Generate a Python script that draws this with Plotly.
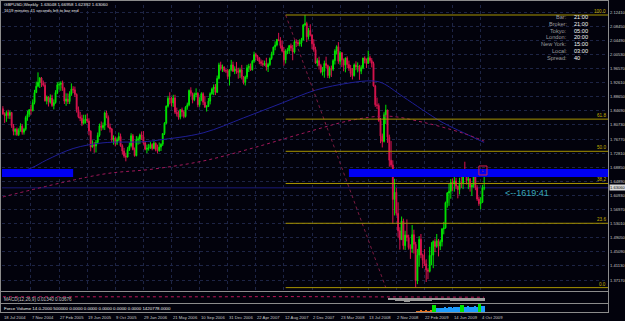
import plotly.graph_objects as go

W, H = 625, 321

# ---------------- data (weekly GBPUSD, 18 Jul 2004 ... 18 Oct 2009) ----------------
weeks = list(range(275))
opens = [
 1.8530,1.8380,1.8330,1.8420,1.8340,1.8420,1.8050,1.7890,1.7950,1.7800,
 1.7920,1.8040,1.7870,1.7950,1.8280,1.8370,1.8500,1.8480,1.8700,1.8980,
 1.9160,1.9270,1.9390,1.9250,1.9190,1.8750,1.8860,1.8710,1.8830,1.8620,
 1.8700,1.8980,1.9200,1.9210,1.9250,1.9100,1.8740,1.8800,1.8730,1.8940,
 1.9080,1.9060,1.8930,1.8500,1.8300,1.8260,1.8120,1.8210,1.8240,1.8180,
 1.7900,1.7450,1.7520,1.7480,1.7580,1.7780,1.8050,1.8000,1.8060,1.8410,
 1.8280,1.8010,1.7960,1.7660,1.7700,1.7560,1.7650,1.7750,1.7490,1.7340,
 1.7200,1.7170,1.7380,1.7490,1.7770,1.7380,1.7210,1.7650,1.7680,1.7790,
 1.7740,1.7570,1.7390,1.7420,1.7430,1.7520,1.7410,1.7560,1.7380,1.7350,
 1.7450,1.7530,1.7830,1.8120,1.8600,1.8820,1.8800,1.8690,1.8830,1.8430,
 1.8380,1.8290,1.8500,1.8440,1.8310,1.8570,1.8640,1.9040,1.8960,1.8780,
 1.8920,1.8960,1.8640,1.8780,1.8950,1.8710,1.8570,1.8590,1.8740,1.8950,
 1.9080,1.9140,1.8990,1.9380,1.9760,1.9650,1.9700,1.9600,1.9590,1.9430,
 1.9620,1.9760,1.9580,1.9650,1.9590,1.9550,1.9620,1.9430,1.9270,1.9420,
 1.9680,1.9720,1.9620,1.9860,2.0050,2.0000,1.9960,1.9850,1.9800,1.9770,
 1.9800,1.9700,1.9770,1.9940,2.0070,2.0260,2.0320,2.0470,2.0440,2.0300,
 2.0150,1.9900,2.0150,2.0160,2.0300,2.0230,2.0120,2.0410,2.0390,2.0350,
 2.0380,2.0460,2.0880,2.0920,2.0550,2.0730,2.0600,2.0350,2.0190,1.9810,
 1.9880,1.9740,1.9560,1.9580,1.9800,1.9740,1.9460,1.9660,1.9640,1.9880,
 2.0150,2.0270,1.9860,2.0100,1.9900,1.9750,1.9950,1.9770,1.9660,1.9520,
 1.9460,1.9760,1.9700,1.9720,1.9580,1.9680,1.9950,1.9880,1.9800,1.9960,
 1.9880,1.9800,1.9170,1.8640,1.8620,1.8200,1.7760,1.7610,1.8360,1.8490,
 1.7730,1.7080,1.6950,1.5980,1.6180,1.5590,1.5100,1.4850,1.5370,1.4680,
 1.4980,1.4910,1.4630,1.4600,1.4990,1.4720,1.3700,1.4420,1.4860,1.4420,
 1.4270,1.4170,1.4000,1.3960,1.4410,1.4420,1.4800,1.4660,1.4820,1.4670,
 1.4790,1.5150,1.5180,1.5890,1.6160,1.6210,1.6460,1.6420,1.6500,1.6350,
 1.6260,1.6450,1.6440,1.6700,1.6680,1.6510,1.6560,1.6330,1.6380,1.6620,
 1.6310,1.5990,1.5860,1.5900,1.6305]
highs = [
 1.8600,1.8430,1.8480,1.8500,1.8470,1.8440,1.8100,1.7980,1.8000,1.7980,
 1.8120,1.8090,1.7990,1.8330,1.8470,1.8520,1.8640,1.8790,1.9060,1.9290,
 1.9550,1.9420,1.9420,1.9320,1.9270,1.8900,1.8880,1.8930,1.8920,1.8790,
 1.9050,1.9270,1.9290,1.9300,1.9320,1.9130,1.8960,1.8960,1.9020,1.9240,
 1.9160,1.9150,1.8960,1.8590,1.8440,1.8360,1.8360,1.8360,1.8390,1.8260,
 1.7920,1.7640,1.7590,1.7650,1.7860,1.8110,1.8170,1.8140,1.8450,1.8470,
 1.8340,1.8110,1.7990,1.7780,1.7750,1.7720,1.7860,1.7830,1.7530,1.7430,
 1.7290,1.7450,1.7580,1.7840,1.7820,1.7440,1.7760,1.7750,1.7830,1.7890,
 1.7900,1.7620,1.7520,1.7540,1.7590,1.7560,1.7620,1.7580,1.7520,1.7580,
 1.7560,1.7840,1.8150,1.8620,1.8890,1.8990,1.8860,1.8920,1.8920,1.8560,
 1.8470,1.8520,1.8560,1.8480,1.8600,1.8700,1.9070,1.9130,1.8980,1.8980,
 1.9100,1.8990,1.8850,1.8990,1.8990,1.8890,1.8630,1.8830,1.8990,1.9120,
 1.9210,1.9220,1.9460,1.9820,1.9850,1.9770,1.9720,1.9640,1.9650,1.9640,
 1.9900,1.9850,1.9720,1.9840,1.9680,1.9680,1.9760,1.9440,1.9460,1.9760,
 1.9790,1.9800,1.9900,2.0130,2.0100,2.0040,1.9970,1.9910,1.9890,1.9880,
 1.9960,1.9820,1.9970,2.0130,2.0270,2.0420,2.0490,2.0660,2.0540,2.0450,
 2.0260,2.0200,2.0240,2.0320,2.0360,2.0320,2.0460,2.0480,2.0450,2.0480,
 2.0520,2.0910,2.1161,2.0970,2.0800,2.0900,2.0620,2.0480,2.0270,1.9950,
 1.9990,1.9790,1.9700,1.9880,1.9990,1.9770,1.9720,1.9740,1.9920,2.0200,
 2.0310,2.0400,2.0150,2.0120,1.9940,1.9970,2.0000,1.9880,1.9760,1.9670,
 1.9800,1.9860,1.9830,1.9760,1.9750,1.9960,2.0000,1.9940,2.0160,2.0020,
 1.9950,1.9850,1.9200,1.8840,1.8680,1.8270,1.7830,1.8430,1.8640,1.8500,
 1.7800,1.7620,1.7080,1.6560,1.6310,1.5900,1.5200,1.5500,1.5440,1.5100,
 1.5420,1.4990,1.4720,1.5260,1.5130,1.4790,1.4590,1.4950,1.5010,1.4460,
 1.4590,1.4300,1.4050,1.4650,1.4780,1.4830,1.4880,1.5010,1.4870,1.4850,
 1.5180,1.5350,1.5920,1.6190,1.6430,1.6550,1.6570,1.6650,1.6590,1.6370,
 1.6590,1.6620,1.6720,1.7040,1.6730,1.6700,1.6580,1.6430,1.6740,1.6670,
 1.6380,1.6060,1.6040,1.6390,1.6696]
lows = [
 1.8360,1.8130,1.8160,1.8250,1.8240,1.7990,1.7780,1.7780,1.7760,1.7760,
 1.7880,1.7800,1.7800,1.7910,1.8190,1.8300,1.8360,1.8450,1.8650,1.8980,
 1.9130,1.9110,1.9140,1.9150,1.8730,1.8650,1.8590,1.8670,1.8580,1.8510,
 1.8670,1.8940,1.9070,1.9030,1.9030,1.8660,1.8610,1.8660,1.8660,1.8890,
 1.8970,1.8860,1.8420,1.8260,1.8180,1.8040,1.8080,1.8110,1.8130,1.7780,
 1.7330,1.7440,1.7290,1.7300,1.7530,1.7740,1.7910,1.7940,1.7930,1.8260,
 1.7980,1.7860,1.7590,1.7520,1.7470,1.7510,1.7610,1.7460,1.7240,1.7150,
 1.7050,1.7160,1.7340,1.7440,1.7360,1.7180,1.7190,1.7520,1.7540,1.7650,
 1.7520,1.7360,1.7280,1.7350,1.7400,1.7360,1.7390,1.7330,1.7270,1.7320,
 1.7340,1.7480,1.7790,1.8100,1.8560,1.8650,1.8590,1.8580,1.8380,1.8310,
 1.8220,1.8230,1.8310,1.8260,1.8280,1.8500,1.8600,1.8890,1.8680,1.8740,
 1.8850,1.8570,1.8580,1.8740,1.8630,1.8560,1.8450,1.8580,1.8650,1.8920,
 1.8910,1.8910,1.8970,1.9350,1.9600,1.9560,1.9560,1.9530,1.9360,1.9180,
 1.9580,1.9560,1.9500,1.9510,1.9370,1.9390,1.9350,1.9210,1.9180,1.9360,
 1.9560,1.9590,1.9600,1.9810,1.9890,1.9870,1.9780,1.9730,1.9710,1.9730,
 1.9600,1.9560,1.9730,1.9900,2.0030,2.0170,2.0280,2.0430,2.0220,2.0110,
 1.9740,1.9800,2.0060,2.0070,2.0150,1.9890,2.0080,2.0260,2.0290,2.0280,
 2.0270,2.0450,2.0850,2.0400,2.0470,2.0560,2.0200,2.0130,1.9790,1.9720,
 1.9630,1.9520,1.9460,1.9400,1.9670,1.9390,1.9380,1.9420,1.9590,1.9770,
 2.0050,1.9790,1.9760,1.9700,1.9580,1.9550,1.9670,1.9590,1.9420,1.9350,
 1.9430,1.9610,1.9550,1.9340,1.9500,1.9640,1.9800,1.9670,1.9790,1.9820,
 1.9690,1.9150,1.8580,1.8520,1.8160,1.7560,1.7440,1.7580,1.8100,1.7570,
 1.6900,1.6880,1.5300,1.5530,1.5530,1.4910,1.4570,1.4840,1.4570,1.4560,
 1.4800,1.4570,1.4310,1.4480,1.4460,1.3503,1.3600,1.4090,1.4330,1.4050,
 1.4110,1.3660,1.3740,1.3930,1.4130,1.4050,1.4500,1.4620,1.4380,1.4560,
 1.4660,1.5000,1.5160,1.5750,1.5800,1.6000,1.6220,1.6200,1.6270,1.6010,
 1.6120,1.6300,1.6270,1.6610,1.6400,1.6270,1.6200,1.6080,1.6310,1.6240,
 1.5940,1.5800,1.5700,1.5880,1.6239]
closes = [
 1.8380,1.8330,1.8420,1.8340,1.8420,1.8050,1.7890,1.7950,1.7800,1.7920,
 1.8040,1.7870,1.7950,1.8280,1.8370,1.8500,1.8480,1.8700,1.8980,1.9160,
 1.9270,1.9390,1.9250,1.9190,1.8750,1.8860,1.8710,1.8830,1.8620,1.8700,
 1.8980,1.9200,1.9210,1.9250,1.9100,1.8740,1.8800,1.8730,1.8940,1.9080,
 1.9060,1.8930,1.8500,1.8300,1.8260,1.8120,1.8210,1.8240,1.8180,1.7900,
 1.7450,1.7520,1.7480,1.7580,1.7780,1.8050,1.8000,1.8060,1.8410,1.8280,
 1.8010,1.7960,1.7660,1.7700,1.7560,1.7650,1.7750,1.7490,1.7340,1.7200,
 1.7170,1.7380,1.7490,1.7770,1.7380,1.7210,1.7650,1.7680,1.7790,1.7740,
 1.7570,1.7390,1.7420,1.7430,1.7520,1.7410,1.7560,1.7380,1.7350,1.7450,
 1.7530,1.7830,1.8120,1.8600,1.8820,1.8800,1.8690,1.8830,1.8430,1.8380,
 1.8290,1.8500,1.8440,1.8310,1.8570,1.8640,1.9040,1.8960,1.8780,1.8920,
 1.8960,1.8640,1.8780,1.8950,1.8710,1.8570,1.8590,1.8740,1.8950,1.9080,
 1.9140,1.8990,1.9380,1.9760,1.9650,1.9700,1.9600,1.9590,1.9430,1.9620,
 1.9760,1.9580,1.9650,1.9590,1.9550,1.9620,1.9430,1.9270,1.9420,1.9680,
 1.9720,1.9620,1.9860,2.0050,2.0000,1.9960,1.9850,1.9800,1.9770,1.9800,
 1.9700,1.9770,1.9940,2.0070,2.0260,2.0320,2.0470,2.0440,2.0300,2.0150,
 1.9900,2.0150,2.0160,2.0300,2.0230,2.0120,2.0410,2.0390,2.0350,2.0380,
 2.0460,2.0880,2.0920,2.0550,2.0730,2.0600,2.0350,2.0190,1.9810,1.9880,
 1.9740,1.9560,1.9580,1.9800,1.9740,1.9460,1.9660,1.9640,1.9880,2.0150,
 2.0270,1.9860,2.0100,1.9900,1.9750,1.9950,1.9770,1.9660,1.9520,1.9460,
 1.9760,1.9700,1.9720,1.9580,1.9680,1.9950,1.9880,1.9800,1.9960,1.9880,
 1.9800,1.9170,1.8640,1.8620,1.8200,1.7760,1.7610,1.8360,1.8490,1.7730,
 1.7080,1.6950,1.5980,1.6180,1.5590,1.5100,1.4850,1.5370,1.4680,1.4980,
 1.4910,1.4630,1.4600,1.4990,1.4720,1.3700,1.4420,1.4860,1.4420,1.4270,
 1.4170,1.4000,1.3960,1.4410,1.4420,1.4800,1.4660,1.4820,1.4670,1.4790,
 1.5150,1.5180,1.5890,1.6160,1.6210,1.6460,1.6420,1.6500,1.6350,1.6260,
 1.6450,1.6440,1.6700,1.6680,1.6510,1.6560,1.6330,1.6380,1.6620,1.6310,
 1.5990,1.5860,1.5900,1.6300,1.6306]

# moving averages (week index, price)
ma_blue_weeks = [0, 16, 25, 40, 57, 80, 89, 114, 137, 159, 178, 197, 210, 216, 228, 250, 262, 274]
ma_blue_vals = [1.663, 1.686, 1.709, 1.741, 1.757, 1.760, 1.765, 1.785, 1.827, 1.869, 1.905, 1.925, 1.931, 1.925, 1.886, 1.815, 1.786, 1.758]
ma_red_weeks = [0, 57, 85, 114, 142, 171, 199, 219, 239, 262, 274]
ma_red_vals = [1.605, 1.669, 1.683, 1.706, 1.742, 1.784, 1.821, 1.832, 1.815, 1.784, 1.762]

# fibonacci retracement
fib_high, fib_low = 2.1161, 1.3503
fib_start_week, fib_end_week = 161, 218
fib_levels = [0.0, 23.6, 38.2, 50.0, 61.8, 100.0]
fib_texts = ["0.0", "23.6", "38.2", "50.0", "61.8", "100.0"]

# blue zone
zone_low, zone_high = 1.6610, 1.6836
zone_left_end_week = 40
zone_right_start_week = 197

# alert marker
alert_week_from, alert_week_to = 271.0, 275.6
alert_low, alert_high = 1.6667, 1.6920

# axis labels
time_label_weeks = [0, 16, 32, 48, 64, 80, 96, 112, 128, 144, 160, 176, 192, 208, 224, 240, 256, 272]
time_labels = ["18 Jul 2004", "7 Nov 2004", "27 Feb 2005", "19 Jun 2005", "9 Oct 2005", "29 Jan 2006",
               "21 May 2006", "10 Sep 2006", "31 Dec 2006", "22 Apr 2007", "12 Aug 2007", "2 Dec 2007",
               "23 Mar 2008", "13 Jul 2008", "2 Nov 2008", "22 Feb 2009", "14 Jun 2009", "4 Oct 2009"]
price_labels = ["2.12410", "2.08450", "2.04490", "2.00530", "1.96570", "1.92610", "1.88650", "1.84690",
                "1.80730", "1.76770", "1.72810", "1.68850", "1.64890", "1.60930", "1.56970", "1.53010",
                "1.49050", "1.45090", "1.41130", "1.37170", "1.33210"]

# indicators
vol_weeks = list(range(236, 275))
vol_vals = [1, 1, 1.5, 1, 1, 1.5, 1, 1, 1.5, 8.5, 8.5, 5, 4.5, 5, 5.5, 5, 6, 5.5, 6, 6, 5.5, 6, 6.5, 6, 6,
            9, 9, 6, 6.5, 7, 6.5, 6, 6.5, 7, 6.5, 9.5, 9.5, 7, 7]
macd_weeks = list(range(220, 275))
macd_vals = [-0.3, -0.4, -0.5, -0.6, -0.7, -0.75, -0.8, -0.85, -0.85, -0.9,
             -0.9, -0.9, -0.85, -0.85, -0.8, -0.8, -0.85, -0.8, -0.8, -0.75,
             -0.75, -0.7, -0.7, -0.65, -0.65, -0.6, -0.6, -0.55, -0.55, -0.5,
             -0.5, -0.5, -0.55, -0.6, -0.6, -0.65, -0.65, -0.7, -0.7, -0.7,
             -0.7, -0.75, -0.75, -0.8, -0.8, -0.75, -0.75, -0.7, -0.7, -0.7,
             -0.65, -0.65, -0.7, -0.7, -0.7]
sig_weeks = [0, 40, 80, 120, 160, 200, 215, 230, 245, 260, 274]
sig_vals = [0.3, 0.25, 0.3, 0.3, 0.35, 0.3, 0.25, 0.15, 0.1, 0.15, 0.2]

info_labels = ["Bar:", "Broker:", "Tokyo:", "London:", "New York:", "Local:", "Spread:"]
info_values = ["21:00", "21:00", "05:00", "20:00", "15:00", "03:00", "40"]

header1 = "GBPUSD,Weekly  1.63048 1.66958 1.62392 1.63060"
header2 = "1619 minutes 41 seconds left to bar end"
countdown = "<--1619:41"
macd_label = "MACD(12,26,9) 0.01340 0.03676"
vol_label = "Force Volume 14.0-2000 500000 0.0000 0.0000 0.0000 0.0000 0.0000 1420778.0000"

# ---------------- styling / layout ----------------
BG = "#02020c"
GRID = "#1d2445"
FIB = "#a89400"
GREEN = "#00e400"
RED = "#d8144e"
FONT = "Liberation Sans, Arial, sans-serif"


def px(x):
    return x / W


def py(y):
    return 1 - y / H


fig = go.Figure()

fig.add_trace(go.Candlestick(
    x=weeks, open=opens, high=highs, low=lows, close=closes,
    increasing=dict(line=dict(color=GREEN, width=1), fillcolor=GREEN),
    decreasing=dict(line=dict(color=RED, width=1), fillcolor=RED),
    whiskerwidth=0, hoverinfo="skip", showlegend=False, xaxis="x", yaxis="y"))

fig.add_trace(go.Scatter(x=ma_blue_weeks, y=ma_blue_vals, mode="lines", line=dict(color="#1e1e96", width=1, shape="spline"),
                         hoverinfo="skip", showlegend=False))
fig.add_trace(go.Scatter(x=ma_red_weeks, y=ma_red_vals, mode="lines", line=dict(color="#a0185a", width=1, dash="dot", shape="spline"),
                         hoverinfo="skip", showlegend=False))
# fib diagonal
fig.add_trace(go.Scatter(x=[fib_start_week, fib_end_week], y=[fib_high, fib_low], mode="lines",
                         line=dict(color="#7a1a40", width=1, dash="dot"), hoverinfo="skip", showlegend=False))

# MACD window
fig.add_trace(go.Bar(x=macd_weeks, y=macd_vals, marker=dict(color="#9a9a9a", line=dict(width=0)), width=0.5,
                     xaxis="x2", yaxis="y2", hoverinfo="skip", showlegend=False))
fig.add_trace(go.Scatter(x=sig_weeks, y=sig_vals, mode="lines", line=dict(color="#c0185a", width=1, dash="dot"),
                         xaxis="x2", yaxis="y2", hoverinfo="skip", showlegend=False))
# volume window
vol_colors = [("#00e400" if v >= 8 else ("#e07020" if v < 2 else "#1e9cff")) for v in vol_vals]
fig.add_trace(go.Bar(x=vol_weeks, y=vol_vals, marker=dict(color=vol_colors, line=dict(width=0)), width=0.8,
                     xaxis="x3", yaxis="y3", hoverinfo="skip", showlegend=False))

shapes = []
# blue zones
shapes.append(dict(type="rect", xref="x", yref="y", x0=-5, x1=zone_left_end_week, y0=zone_low, y1=zone_high,
                   fillcolor="#0000f0", line=dict(width=0), layer="above"))
shapes.append(dict(type="rect", xref="x", yref="y", x0=zone_right_start_week, x1=400, y0=zone_low, y1=zone_high,
                   fillcolor="#0000f0", line=dict(width=0), layer="above"))
# fib horizontal lines
for lv in fib_levels:
    p = fib_low + lv / 100.0 * (fib_high - fib_low)
    shapes.append(dict(type="line", xref="x", yref="y", x0=fib_start_week, x1=400, y0=p, y1=p,
                       line=dict(color=FIB, width=1), layer="above"))
# bid line
shapes.append(dict(type="line", xref="paper", yref="y", x0=px(2), x1=px(608), y0=closes[-1], y1=closes[-1],
                   line=dict(color="#1a1a78", width=1), layer="below"))
# alert marker
shapes.append(dict(type="rect", xref="x", yref="y", x0=alert_week_from, x1=alert_week_to, y0=alert_low, y1=alert_high,
                   line=dict(color="#d0204e", width=1), fillcolor="rgba(0,0,0,0)", layer="above"))
# frame lines
for yy in (291.5, 303.5, 312.5):
    shapes.append(dict(type="line", xref="paper", yref="paper", x0=0, x1=px(608), y0=py(yy), y1=py(yy),
                       line=dict(color="#8c8c8c", width=1)))
shapes.append(dict(type="line", xref="paper", yref="paper", x0=px(608.5), x1=px(608.5), y0=py(0), y1=py(313),
                   line=dict(color="#8c8c8c", width=1)))
shapes.append(dict(type="line", xref="paper", yref="paper", x0=px(0.5), x1=px(0.5), y0=py(0), y1=py(313),
                   line=dict(color="#8c8c8c", width=1)))
shapes.append(dict(type="line", xref="paper", yref="paper", x0=0, x1=px(608.5), y0=py(0.5), y1=py(0.5),
                   line=dict(color="#8c8c8c", width=1)))

ann = []


def text(x, y, s, size, color, xanchor="left", yanchor="middle", xref="paper", yref="paper", **kw):
    ann.append(dict(x=x, y=y, text=s, xref=xref, yref=yref, xanchor=xanchor, yanchor=yanchor, showarrow=False,
                    borderpad=0, font=dict(family=FONT, size=size, color=color), **kw))


text(px(3), py(4.5), header1, 4.4, "#e8e8e8")
text(px(3), py(10.5), header2, 4.2, "#e8e8e8")
for k, (lab, val) in enumerate(zip(info_labels, info_values)):
    yy = 17 + 6.8 * k
    text(px(568), py(yy), lab, 5.6, "#9c9c9c", xanchor="right")
    text(px(573), py(yy), val, 5.6, "#f4f4f4")
for lv, t in zip(fib_levels, fib_texts):
    p = fib_low + lv / 100.0 * (fib_high - fib_low)
    text(px(607), p, t, 4.6, "#c8b000", xanchor="right", yanchor="bottom", yref="y")
for s in price_labels:
    text(px(609), float(s), s, 4.1, "#c8c8c8", yref="y")
text(px(609), closes[-1], "1.63060", 4.1, "#101010", yref="y", bgcolor="#d8d8d8")
for wk, s in zip(time_label_weeks, time_labels):
    text(wk, py(317.5), s, 4.2, "#c8c8c8", xref="x")
text(px(504), py(193), countdown, 9, "#3aa8bc")
text((alert_week_from + alert_week_to) / 2, (alert_low + alert_high) / 2, "↓", 6, "#d0204e",
     xanchor="center", xref="x", yref="y")
text(px(3), py(299.5), macd_label, 4.6, "#c0c0c0")
text(px(3), py(308), vol_label, 4.4, "#f0f0f0")

grid = dict(showgrid=True, gridcolor=GRID, gridwidth=1, griddash="dot")
fig.update_layout(
    width=W, height=H, autosize=False,
    margin=dict(l=0, r=0, t=0, b=0),
    paper_bgcolor=BG, plot_bgcolor=BG,
    showlegend=False, bargap=0,
    xaxis=dict(domain=[px(2), px(608)], range=[-0.5, 344.5], tickvals=time_label_weeks, showticklabels=False,
               zeroline=False, showline=False, ticks="", rangeslider=dict(visible=False), anchor="y", **grid),
    yaxis=dict(domain=[py(291), py(5)], range=[1.3408, 2.1442], tickvals=[float(s) for s in price_labels],
               showticklabels=False, zeroline=False, showline=False, ticks="", anchor="x", **grid),
    xaxis2=dict(domain=[px(2), px(608)], range=[-0.5, 344.5], visible=False, anchor="y2"),
    yaxis2=dict(domain=[py(302), py(292)], range=[-1, 1.5], visible=False, anchor="x2"),
    xaxis3=dict(domain=[px(2), px(608)], range=[-0.5, 344.5], visible=False, anchor="y3"),
    yaxis3=dict(domain=[py(312), py(304)], range=[0, 10], visible=False, anchor="x3"),
    shapes=shapes, annotations=ann,
)

fig.write_html("out.html")
